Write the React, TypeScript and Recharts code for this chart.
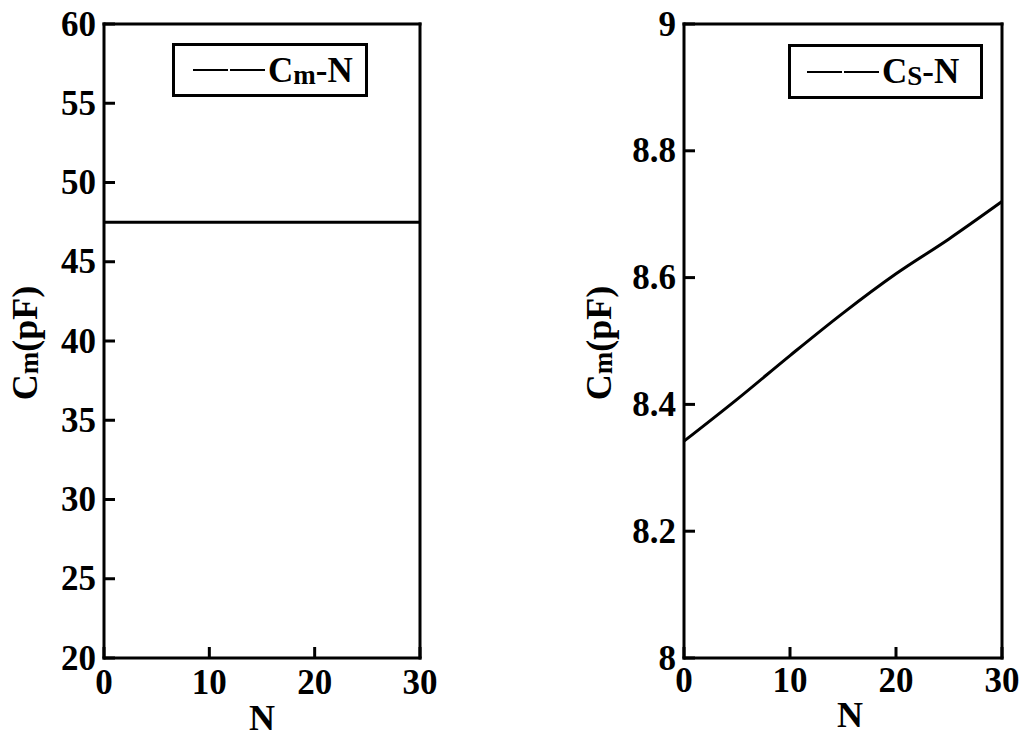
import React from 'react';
import { LineChart, Line, XAxis, YAxis, Legend } from 'recharts';

const N_VALUES = [0, 5, 10, 15, 20, 25, 30];
const CM_VALUES = [47.5, 47.5, 47.5, 47.5, 47.5, 47.5, 47.5];
const CS_VALUES = [8.342, 8.408, 8.477, 8.544, 8.606, 8.661, 8.72];

const X_TICKS = [0, 10, 20, 30];
const LEFT_Y_TICKS = [20, 25, 30, 35, 40, 45, 50, 55, 60];
const RIGHT_Y_TICKS = [8, 8.2, 8.4, 8.6, 8.8, 9];

const FONT = "'Liberation Serif', 'Times New Roman', serif";
const TICK_COLOR = '#000';

const leftData = N_VALUES.map((n, i) => ({ n, v: CM_VALUES[i] }));
const rightData = N_VALUES.map((n, i) => ({ n, v: CS_VALUES[i] }));

const YTickText = (props: any) => {
  const { x, y, payload, gap } = props;
  return (
    <text
      x={x - gap}
      y={y}
      textAnchor="end"
      dominantBaseline="central"
      fontFamily={FONT}
      fontWeight="bold"
      fontSize={35}
      fill="#000"
    >
      {String(payload.value)}
    </text>
  );
};

const XTickText = (props: any) => {
  const { x, y, payload, dy } = props;
  return (
    <text
      x={x}
      y={y + dy}
      textAnchor="middle"
      dominantBaseline="central"
      fontFamily={FONT}
      fontWeight="bold"
      fontSize={35}
      fill="#000"
    >
      {String(payload.value)}
    </text>
  );
};

const makeXLabel = (cy: number, dx: number) => (props: any) => {
  const vb = props.viewBox || {};
  const cx = vb.x + vb.width / 2 + dx;
  return (
    <text
      x={cx}
      y={cy}
      textAnchor="middle"
      dominantBaseline="central"
      fontFamily={FONT}
      fontWeight="bold"
      fontSize={36}
      fill="#000"
    >
      N
    </text>
  );
};

const makeYLabel = (baselineX: number) => (props: any) => {
  const vb = props.viewBox || {};
  const cy = vb.y + vb.height / 2 + 2;
  return (
    <text
      x={baselineX}
      y={cy}
      transform={`rotate(-90, ${baselineX}, ${cy})`}
      textAnchor="middle"
      fontFamily={FONT}
      fontWeight="bold"
      fontSize={36}
      fill="#000"
    >
      C
      <tspan fontSize={27} dy={1}>m</tspan>
      <tspan fontSize={36} dy={-1}>(pF)</tspan>
    </text>
  );
};

const makeLegend = (sub: string, width: number, height: number, padLeft: number) => () => (
  <div
    style={{
      boxSizing: 'border-box',
      width,
      height,
      border: '3px solid #000',
      background: '#fff',
      display: 'flex',
      alignItems: 'center',
      paddingLeft: padLeft,
      fontFamily: FONT,
      fontWeight: 'bold',
      color: '#000',
    }}
  >
    <span style={{ display: 'inline-block', width: 35, borderTop: '2px solid #000' }} />
    <span style={{ display: 'inline-block', width: 35, borderTop: '2px solid #000', marginLeft: 2 }} />
    <span style={{ marginLeft: 3, fontSize: 35, lineHeight: 1, whiteSpace: 'nowrap' }}>
      C
      <span style={{ fontSize: 27, position: 'relative', top: 2 }}>{sub}</span>
      -N
    </span>
  </div>
);

const axisLineStyle = { stroke: '#000', strokeWidth: 3, strokeLinecap: 'square' as const };
const tickLineStyle = { stroke: TICK_COLOR, strokeWidth: 3 };

type PanelProps = {
  data: { n: number; v: number }[];
  width: number;
  margin: { top: number; right: number; bottom: number; left: number };
  yDomain: [number, number];
  yTicks: number[];
  yGap: number;
  yLabelX: number;
  xTickDy: number;
  xLabelY: number;
  xLabelDx: number;
  legendSub: string;
  legendBox: { left: number; top: number; width: number; height: number; pad: number };
  curve: 'linear' | 'monotone';
  name: string;
};

const Panel = (p: PanelProps) => (
  <LineChart width={p.width} height={738} data={p.data} margin={p.margin}>
    <XAxis
      dataKey="n"
      type="number"
      domain={[0, 30]}
      ticks={X_TICKS}
      interval={0}
      height={60}
      tickSize={-11}
      tickMargin={11}
      tickLine={tickLineStyle}
      axisLine={axisLineStyle}
      tick={(t: any) => <XTickText {...t} dy={p.xTickDy} />}
      label={{ content: makeXLabel(p.xLabelY, p.xLabelDx) }}
    />
    <XAxis
      xAxisId="top"
      orientation="top"
      dataKey="n"
      type="number"
      domain={[0, 30]}
      height={1}
      tick={false}
      tickLine={false}
      axisLine={axisLineStyle}
    />
    <YAxis
      type="number"
      domain={p.yDomain}
      ticks={p.yTicks}
      interval={0}
      width={60}
      tickSize={-11}
      tickMargin={11}
      tickLine={tickLineStyle}
      axisLine={axisLineStyle}
      tick={(t: any) => <YTickText {...t} gap={p.yGap} />}
      label={{ content: makeYLabel(p.yLabelX) }}
    />
    <YAxis
      yAxisId="right"
      orientation="right"
      type="number"
      domain={p.yDomain}
      width={1}
      tick={false}
      tickLine={false}
      axisLine={axisLineStyle}
    />
    <Legend
      layout="vertical"
      align="center"
      verticalAlign="middle"
      content={makeLegend(p.legendSub, p.legendBox.width, p.legendBox.height, p.legendBox.pad)}
      wrapperStyle={{ left: p.legendBox.left, top: p.legendBox.top, width: 'auto', height: 'auto' }}
    />
    <Line
      dataKey="v"
      name={p.name}
      type={p.curve}
      stroke="#000"
      strokeWidth={3}
      dot={false}
      isAnimationActive={false}
    />
  </LineChart>
);

export default function App() {
  return (
    <div
      style={{
        position: 'absolute',
        left: 0,
        top: 0,
        width: 1024,
        height: 738,
        background: '#fff',
        overflow: 'hidden',
      }}
    >
      <div style={{ position: 'absolute', left: 0, top: 0 }}>
        <Panel
          data={leftData}
          width={450}
          margin={{ top: 23, right: 29, bottom: 20, left: 44 }}
          yDomain={[20, 60]}
          yTicks={LEFT_Y_TICKS}
          yGap={8}
          yLabelX={37}
          xTickDy={24}
          xLabelY={718}
          xLabelDx={0}
          legendSub="m"
          legendBox={{ left: 172, top: 43, width: 196, height: 54, pad: 18 }}
          curve="linear"
          name="Cm-N"
        />
      </div>
      <div style={{ position: 'absolute', left: 560, top: 0 }}>
        <Panel
          data={rightData}
          width={464}
          margin={{ top: 23, right: 21, bottom: 20, left: 64 }}
          yDomain={[8, 9]}
          yTicks={RIGHT_Y_TICKS}
          yGap={8}
          yLabelX={51}
          xTickDy={22}
          xLabelY={715}
          xLabelDx={7}
          legendSub="S"
          legendBox={{ left: 228, top: 44, width: 195, height: 55, pad: 16 }}
          curve="monotone"
          name="CS-N"
        />
      </div>
    </div>
  );
}
